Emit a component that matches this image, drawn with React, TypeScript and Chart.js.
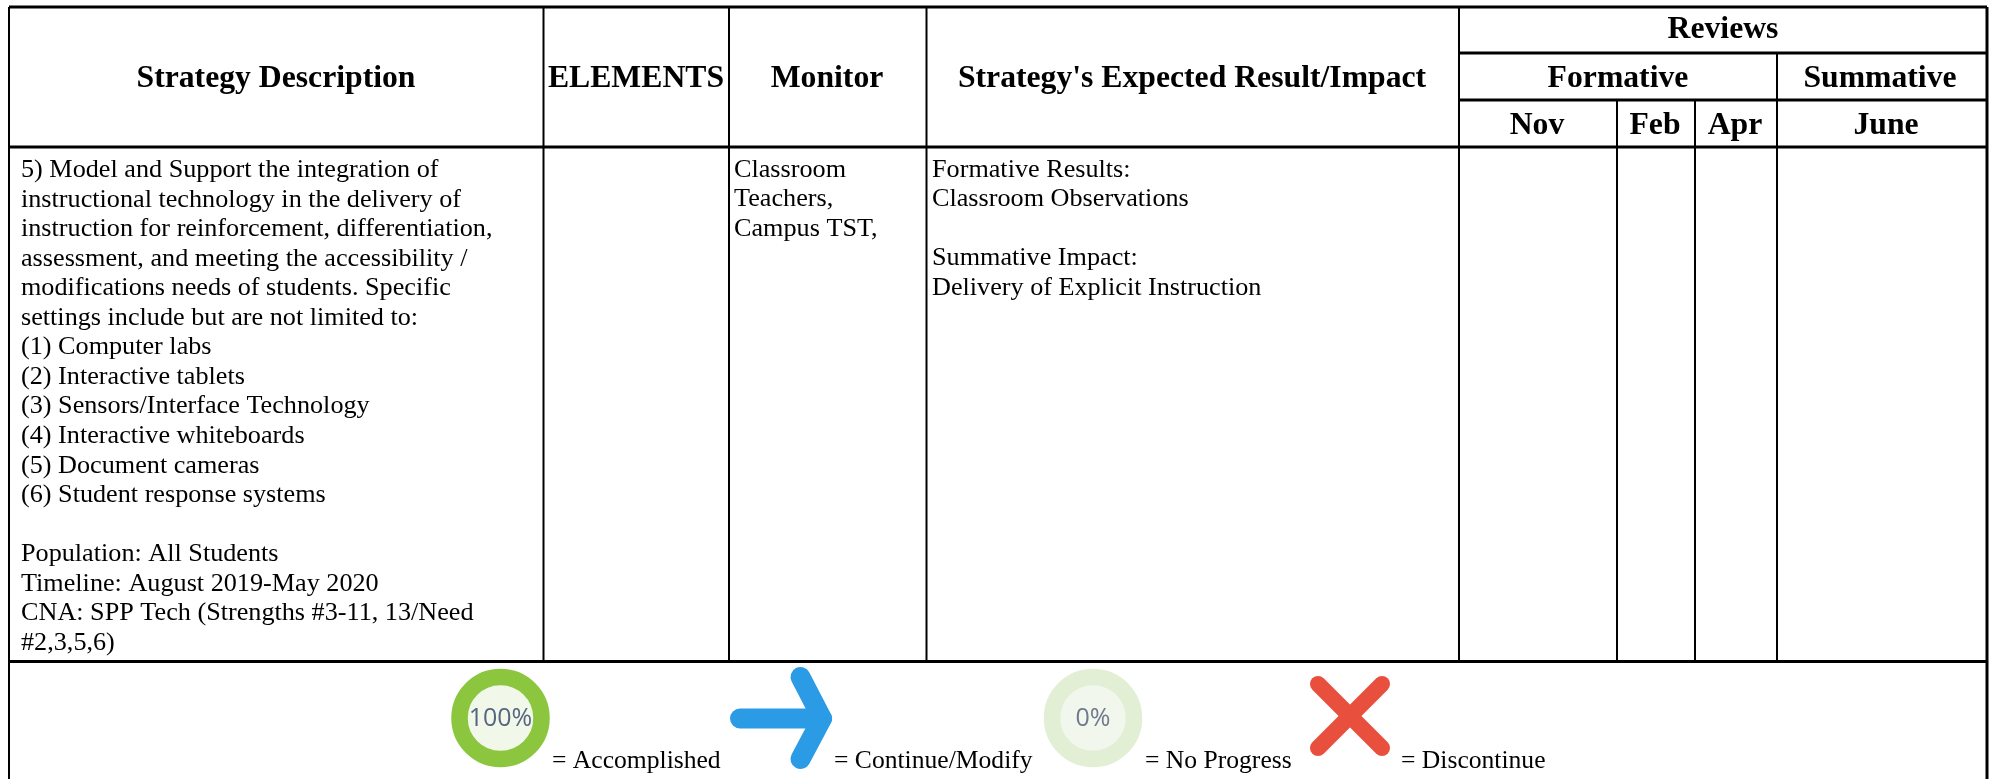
import React, { useEffect, useRef } from "react";
import { Chart, registerables } from "chart.js";

Chart.register(...registerables);

const WIDTH = 1995;
const HEIGHT = 779;
const SERIF = '"Liberation Serif", serif';

// table rules
const columnEdges = [543.5, 729, 926.5];
const reviewEdges = [1459];
const monthEdges = [1617, 1695, 1777];
const headerRules = [53, 100];

// text
const headers = ["Strategy Description", "ELEMENTS", "Monitor", "Strategy's Expected Result/Impact"];
const reviewHeaders = ["Reviews", "Formative", "Summative"];
const months = ["Nov", "Feb", "Apr", "June"];
const strategyLines = [
  "5) Model and Support the integration of",
  "instructional technology in the delivery of",
  "instruction for reinforcement, differentiation,",
  "assessment, and meeting the accessibility /",
  "modifications needs of students. Specific",
  "settings include but are not limited to:",
  "(1) Computer labs",
  "(2) Interactive tablets",
  "(3) Sensors/Interface Technology",
  "(4) Interactive whiteboards",
  "(5) Document cameras",
  "(6) Student response systems",
  "",
  "Population: All Students",
  "Timeline: August 2019-May 2020",
  "CNA: SPP Tech (Strengths #3-11, 13/Need",
  "#2,3,5,6)",
];
const monitorLines = ["Classroom", "Teachers,", "Campus TST,"];
const resultLines = [
  "Formative Results:",
  "Classroom Observations",
  "",
  "Summative Impact:",
  "Delivery of Explicit Instruction",
];
const legendLabels = ["= Accomplished", "= Continue/Modify", "= No Progress", "= Discontinue"];
const gaugeLabels = ["100%", "0%"];

const seg = (x1: number, y1: number, x2: number, y2: number, width = 2, color = "#000000", extra = {}) => ({
  type: "line" as const,
  data: [{ x: x1, y: y1 }, { x: x2, y: y2 }],
  borderColor: color,
  borderWidth: width,
  pointRadius: 0,
  tension: 0,
  clip: false,
  ...extra,
});

const tablePlugin = {
  id: "tableText",
  afterDatasetsDraw(chart: any) {
    const { ctx, scales } = chart;
    const px = (v: number) => scales.x.getPixelForValue(v);
    const py = (v: number) => scales.y.getPixelForValue(v);
    const put = (s: string, x: number, y: number, font: string, align: CanvasTextAlign = "left", color = "#000000") => {
      ctx.font = font;
      ctx.textAlign = align;
      ctx.textBaseline = "alphabetic";
      ctx.fillStyle = color;
      ctx.fillText(s, px(x), py(y));
    };
    ctx.save();
    const head = `bold 31.7px ${SERIF}`;
    const body = `26.2px ${SERIF}`;
    const legend = `25.6px ${SERIF}`;
    [276, 636, 827, 1192].forEach((x, i) => put(headers[i], x, 87, head, "center"));
    [[1723, 38], [1618, 87], [1880, 87]].forEach(([x, y], i) => put(reviewHeaders[i], x, y, head, "center"));
    [1537, 1655, 1735, 1886].forEach((x, i) => put(months[i], x, 134, head, "center"));
    strategyLines.forEach((s, i) => put(s, 21, 177 + i * 29.56, body));
    monitorLines.forEach((s, i) => put(s, 734, 177 + i * 29.4, body));
    resultLines.forEach((s, i) => put(s, 932, 177 + i * 29.4, body));
    [552, 834, 1145, 1401].forEach((x, i) => put(legendLabels[i], x, 768, legend));
    put(gaugeLabels[0], 500.5, 726, `25px "Open Sans", sans-serif`, "center", "#55657f");
    put(gaugeLabels[1], 1093, 726, `25px "Open Sans", sans-serif`, "center", "#6f7a8e");
    ctx.restore();
  },
};

export default function App() {
  const ref = useRef<HTMLCanvasElement | null>(null);
  useEffect(() => {
    if (!ref.current) return;
    const ring = (x: number, color: string, fill: string) => ({
      type: "scatter" as const,
      data: [{ x, y: 718 }],
      pointRadius: 41,
      pointBorderWidth: 16.5,
      pointBorderColor: color,
      pointBackgroundColor: fill,
      clip: false,
    });
    const arrow = { borderCapStyle: "round", borderJoinStyle: "round" };
    const cross = { borderCapStyle: "round" };
    const right = 1987;
    const datasets: any[] = [
      seg(9, 7, right, 7, 3),
      seg(9, 7, 9, HEIGHT, 2),
      seg(right, 7, right, HEIGHT, 3),
      seg(9, 147, right, 147, 3),
      seg(9, 661.5, right, 661.5, 3),
      ...columnEdges.map((x) => seg(x, 7, x, 661.5)),
      ...reviewEdges.map((x) => seg(x, 7, x, 661.5)),
      ...monthEdges.map((x) => seg(x, x === 1777 ? 53 : 100, x, 661.5)),
      seg(1459, headerRules[0], right, headerRules[0], 3),
      seg(1459, headerRules[1], right, headerRules[1], 3),
      ring(500.5, "#8cc63f", "#f1f8ea"),
      ring(1093, "#e2efd4", "#f1f7ec"),
      seg(740, 718.5, 822, 718.5, 20, "#2b9be6", arrow),
      {
        ...seg(800.5, 677, 822, 718.5, 20, "#2b9be6", arrow),
        data: [{ x: 800.5, y: 677 }, { x: 822, y: 718.5 }, { x: 800.5, y: 759 }],
      },
      seg(1318, 684, 1382, 748, 16, "#e94f3d", cross),
      seg(1382, 684, 1318, 748, 16, "#e94f3d", cross),
    ];
    const chart = new Chart(ref.current, {
      type: "line",
      data: { datasets },
      options: {
        animation: false,
        responsive: false,
        maintainAspectRatio: false,
        devicePixelRatio: 1,
        layout: { padding: 0, autoPadding: false },
        plugins: { legend: { display: false }, tooltip: { enabled: false }, title: { display: false } },
        scales: {
          x: { type: "linear", min: 0, max: WIDTH, display: false },
          y: { type: "linear", min: 0, max: HEIGHT, reverse: true, display: false },
        },
      },
      plugins: [tablePlugin],
    } as any);
    return () => chart.destroy();
  }, []);
  return (
    <canvas
      ref={ref}
      width={WIDTH}
      height={HEIGHT}
      style={{ position: "fixed", left: 0, top: 0, width: WIDTH, height: HEIGHT, display: "block", background: "#ffffff" }}
    />
  );
}
